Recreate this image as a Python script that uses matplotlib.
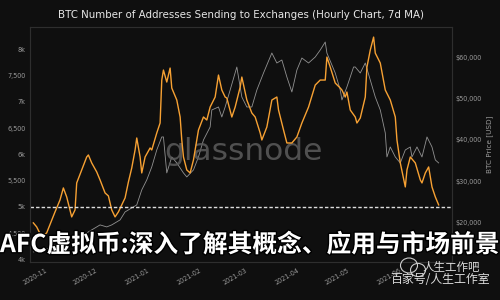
import matplotlib
matplotlib.use("Agg")
import matplotlib.pyplot as plt
import matplotlib.dates as mdates
import matplotlib.patheffects as pe
from matplotlib.patches import Ellipse
import pandas as pd

# Addresses sending to exchanges (7d MA)
addr_dates = [
    "2020-10-23", "2020-10-25", "2020-10-28", "2020-10-31", "2020-11-05", "2020-11-08",
    "2020-11-10", "2020-11-12", "2020-11-15", "2020-11-17", "2020-11-18", "2020-11-21",
    "2020-11-24", "2020-11-25", "2020-11-27", "2020-11-30", "2020-12-02", "2020-12-05",
    "2020-12-07", "2020-12-09", "2020-12-11", "2020-12-13", "2020-12-15", "2020-12-17",
    "2020-12-19", "2020-12-21", "2020-12-23", "2020-12-24", "2020-12-26", "2020-12-27",
    "2020-12-29", "2021-01-01", "2021-01-02", "2021-01-05", "2021-01-07", "2021-01-08",
    "2021-01-09", "2021-01-11", "2021-01-13", "2021-01-14", "2021-01-17", "2021-01-19",
    "2021-01-20", "2021-01-21", "2021-01-23", "2021-01-25", "2021-01-27", "2021-01-30",
    "2021-02-02", "2021-02-04", "2021-02-06", "2021-02-09", "2021-02-11", "2021-02-13",
    "2021-02-15", "2021-02-16", "2021-02-19", "2021-02-21", "2021-02-24", "2021-02-25",
    "2021-02-28", "2021-03-03", "2021-03-05", "2021-03-08", "2021-03-09", "2021-03-12",
    "2021-03-15", "2021-03-18", "2021-03-19", "2021-03-22", "2021-03-24", "2021-03-27",
    "2021-03-30", "2021-04-02", "2021-04-06", "2021-04-10", "2021-04-13", "2021-04-16",
    "2021-04-17", "2021-04-19", "2021-04-22", "2021-04-25", "2021-04-26", "2021-04-28",
    "2021-04-29", "2021-05-01", "2021-05-04", "2021-05-05", "2021-05-07", "2021-05-10",
    "2021-05-11", "2021-05-13", "2021-05-15", "2021-05-16", "2021-05-19", "2021-05-22",
    "2021-05-25", "2021-05-28", "2021-05-29", "2021-05-31", "2021-06-03", "2021-06-04",
    "2021-06-06", "2021-06-09", "2021-06-12", "2021-06-13", "2021-06-15", "2021-06-17",
    "2021-06-19", "2021-06-21", "2021-06-23",
]
addr_values = [
    4696, 4620, 4430, 4506, 4905, 5133,
    5361, 5190, 4810, 4943, 5456, 5703,
    5950, 5988, 5836, 5665, 5513, 5266,
    5209, 4943, 4810, 4905, 5038, 5171,
    5475, 5741, 6083, 6311, 5950, 5646,
    5950, 6121, 6083, 6406, 6596, 7413,
    7603, 7375, 7641, 7261, 7033, 6710,
    6273, 5950, 5703, 5646, 5893, 6463,
    6710, 6653, 6900, 7090, 7508, 7223,
    7090, 7071, 6710, 6900, 7280, 7470,
    7033, 6786, 6710, 6406, 6273, 6520,
    7033, 7090, 6843, 6463, 6216, 6216,
    6330, 6596, 6900, 7318, 7413, 7413,
    7850, 7660, 7356, 7261, 7223, 7090,
    7185, 6843, 6710, 6596, 6691, 7090,
    7660, 7983, 8230, 7926, 7736, 7223,
    7033, 6710, 6273, 5836, 5380, 5703,
    5950, 5836, 5513, 5456, 5646, 5760,
    5380, 5190, 5038,
]

# BTC price (USD)
price_dates = [
    "2020-10-23", "2020-10-30", "2020-11-05", "2020-11-10", "2020-11-14", "2020-11-18",
    "2020-11-24", "2020-11-27", "2020-12-02", "2020-12-06", "2020-12-09", "2020-12-14",
    "2020-12-17", "2020-12-21", "2020-12-24", "2020-12-27", "2020-12-30", "2021-01-02",
    "2021-01-05", "2021-01-08", "2021-01-09", "2021-01-11", "2021-01-14", "2021-01-17",
    "2021-01-21", "2021-01-23", "2021-01-27", "2021-01-30", "2021-02-02", "2021-02-06",
    "2021-02-07", "2021-02-11", "2021-02-13", "2021-02-15", "2021-02-18", "2021-02-22",
    "2021-02-25", "2021-02-28", "2021-03-03", "2021-03-06", "2021-03-10", "2021-03-15",
    "2021-03-18", "2021-03-21", "2021-03-24", "2021-03-27", "2021-03-30", "2021-04-02",
    "2021-04-06", "2021-04-10", "2021-04-13", "2021-04-16", "2021-04-17", "2021-04-22",
    "2021-04-25", "2021-04-26", "2021-04-29", "2021-05-03", "2021-05-04", "2021-05-07",
    "2021-05-10", "2021-05-13", "2021-05-16", "2021-05-19", "2021-05-22", "2021-05-23",
    "2021-05-25", "2021-05-28", "2021-05-31", "2021-06-03", "2021-06-06", "2021-06-07",
    "2021-06-10", "2021-06-13", "2021-06-16", "2021-06-19", "2021-06-21", "2021-06-23",
]
price_values = [
    13011, 13493, 14698, 15903, 16385, 16626,
    17590, 18313, 19518, 19036, 19518, 20723,
    22651, 23615, 24338, 27953, 30363, 33496,
    37593, 40726, 40726, 32050, 35906, 34460,
    32050, 31086, 32773, 35906, 40003, 43136,
    47233, 47956, 45546, 47956, 52053, 57596,
    50366, 47956, 47956, 52053, 56150, 60970,
    58560, 59283, 55186, 51571, 56873, 59765,
    58560, 60006, 61693, 63621, 60970, 56150,
    52053, 49643, 52776, 57596, 57596, 56150,
    58560, 54463, 50366, 47233, 41690, 35906,
    38316, 35906, 34460, 37593, 38316, 35906,
    38316, 35906, 40726, 38316, 35183, 34460,
]

left_ticks = [4000, 4500, 5000, 5500, 6000, 6500, 7000, 7500, 8000]
left_labels = ["4k", "4,500", "5k", "5,500", "6k", "6,500", "7k", "7,500", "8k"]
right_ticks = [20000, 30000, 40000, 50000, 60000]
right_labels = ["$20,000", "$30,000", "$40,000", "$50,000", "$60,000"]
month_ticks = ["2020-11-01", "2020-12-01", "2021-01-01", "2021-02-01", "2021-03-01",
               "2021-04-01", "2021-05-01", "2021-06-01"]

bg = "#0f0f0f"
tick_col = "#9a9a9a"
cjk = ["Noto Sans CJK SC", "DejaVu Sans"]

fig = plt.figure(figsize=(5, 3), dpi=100, facecolor=bg)
ax = fig.add_axes([0.06, 0.127, 0.844, 0.783], facecolor=bg)
ax2 = ax.twinx()
ax.set_zorder(ax2.get_zorder() + 1)
ax.patch.set_visible(False)

# watermark
ax.text(0.505, 0.47, "glassnode", transform=ax.transAxes, ha="center", va="center",
        fontsize=22.5, color="#5c5c5c", alpha=0.85, zorder=0)

ax2.plot(pd.to_datetime(price_dates), price_values, color="#929292", lw=0.6)
ax.plot(pd.to_datetime(addr_dates), addr_values, color="#f7a133", lw=1.0)
ax.axhline(5000, color="#dddddd", lw=1.0, ls=(0, (2.5, 1.5)))

ax.set_xlim(pd.Timestamp("2020-10-21"), pd.Timestamp("2021-07-01"))
ax.set_ylim(3954, 8422)
ax2.set_ylim(10600, 67240)

ax.set_yticks(left_ticks)
ax.set_yticklabels(left_labels)
ax2.set_yticks(right_ticks)
ax2.set_yticklabels(right_labels)
ax.set_xticks(pd.to_datetime(month_ticks))
ax.xaxis.set_major_formatter(mdates.DateFormatter("%Y-%m"))
for lbl in ax.get_xticklabels():
    lbl.set_rotation(30)
    lbl.set_ha("right")

for a in (ax, ax2):
    a.tick_params(colors=tick_col, labelsize=4.7, length=0)
    for s in a.spines.values():
        s.set_color("#2e2e2e")
        s.set_linewidth(0.8)
ax.tick_params(axis="y", pad=3)
ax.tick_params(axis="x", pad=4)
ax2.tick_params(axis="y", pad=2.5)

ax2.set_ylabel("BTC Price [USD]", color=tick_col, fontsize=5.2, labelpad=3)

fig.text(0.482, 0.95, "BTC Number of Addresses Sending to Exchanges (Hourly Chart, 7d MA)",
         ha="center", va="center", fontsize=7.4, color="#e6e6e6")

# overlay headline
fig.text(0.0, 0.183, "AFC虚拟币:深入了解其概念、应用与市场前景",
         ha="left", va="center", fontsize=17.8, fontweight="bold", color="white",
         family=cjk,
         path_effects=[pe.withStroke(linewidth=2, foreground="black")])

# corner watermark
fig.text(0.96, 0.11, "人生工作吧", ha="right", va="center", fontsize=8.3,
         color="#dddddd", family=cjk)
fig.text(0.98, 0.068, "百家号/人生工作室", ha="right", va="center", fontsize=8.6,
         color="#dddddd", family=cjk)
fig.patches.append(Ellipse((0.818, 0.115), 0.034, 0.05, transform=fig.transFigure,
                           fill=False, ec="#cccccc", lw=0.8))
fig.patches.append(Ellipse((0.836, 0.1), 0.03, 0.044, transform=fig.transFigure,
                           fill=False, ec="#cccccc", lw=0.8))

fig.savefig("out.png", dpi=100, facecolor=bg)
